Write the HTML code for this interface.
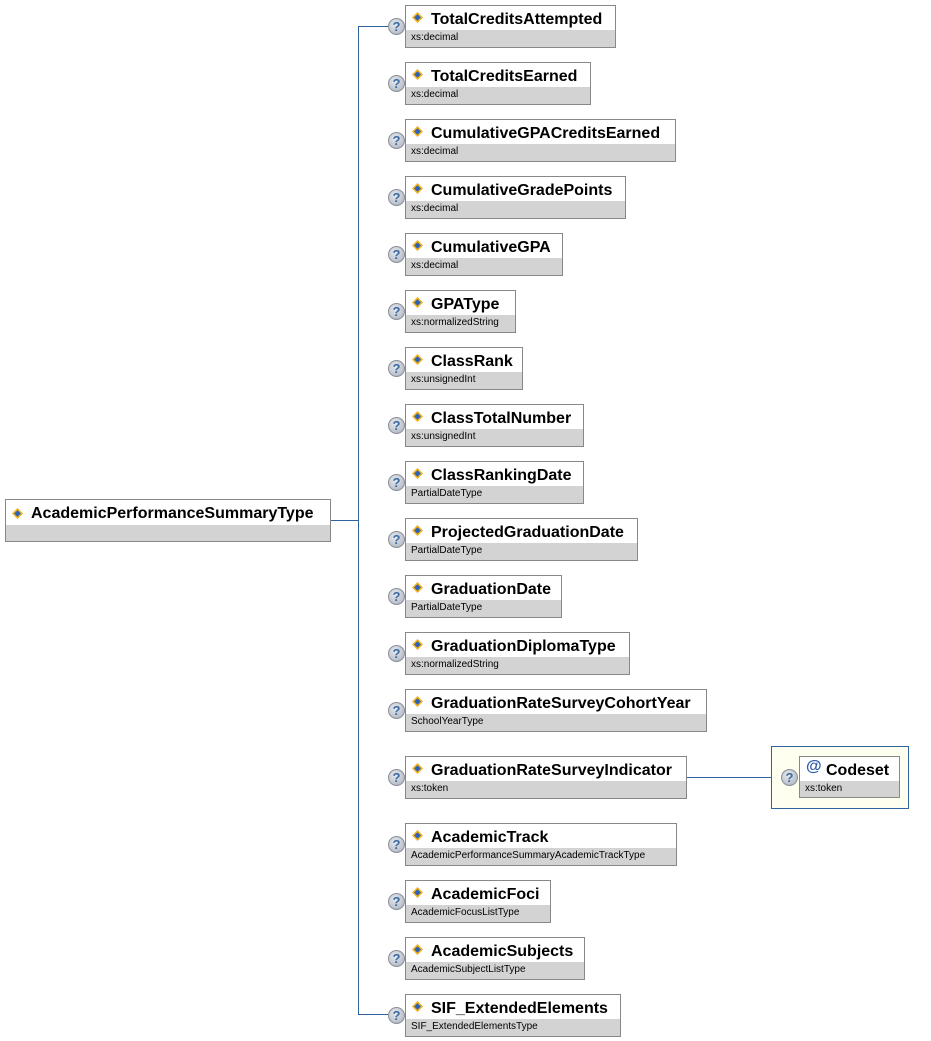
<!DOCTYPE html>
<html><head><meta charset="utf-8"><style>
body{margin:0;width:931px;height:1041px;background:#fff;position:relative;overflow:hidden;font-family:"Liberation Sans",Arial,sans-serif}
.b{position:absolute;height:41px;border:1px solid #888;background:#d3d3d3;box-sizing:border-box}
.b .t{height:24px;background:#fff;font-weight:bold;font-size:16px;line-height:27px;padding-left:25px;white-space:nowrap;color:#000}
.b .s{font-size:10px;line-height:16px;padding-left:5px;white-space:nowrap;color:#000}
.ic{position:absolute;left:6px;top:6px;width:11px;height:11px}
.q{position:absolute;width:17px;height:17px;border-radius:50%;background:radial-gradient(circle at 40% 35%,#e6e9ee,#a8afbb);border:1px solid #8a8f98;box-sizing:border-box;font-size:13px;font-weight:bold;color:#3d6aa0;text-align:center;line-height:16px}
.l{position:absolute;background:#2f64a0}
</style></head><body>
<div class="l" style="left:358px;top:26px;width:1px;height:989px"></div>
<div class="l" style="left:358px;top:26px;width:30px;height:1px"></div>
<div class="l" style="left:358px;top:1014px;width:30px;height:1px"></div>
<div class="l" style="left:330px;top:520px;width:28px;height:1px"></div>
<div class="l" style="left:686px;top:777px;width:85px;height:1px"></div>

<div class="b" style="left:5px;top:499px;width:326px;height:43px"><div class="t" style="height:25px;font-size:16px;line-height:28px;">AcademicPerformanceSummaryType</div><svg class="ic" style="top:8px" viewBox="0 0 10 10"><path d="M5 0L10 5L5 10L0 5Z" fill="#f0b020"/><path d="M5 2L8 5L5 8L2 5Z" fill="#2b62b8"/></svg></div>

<div style="position:absolute;left:771px;top:746px;width:138px;height:63px;border:1px solid #2f64a0;background:#fffff0;box-sizing:border-box"></div>
<div class="q" style="left:781px;top:769px">?</div>
<div class="b" style="left:799px;top:756px;width:101px;height:42px"><div class="t" style="font-size:16px;padding-left:26px">Codeset</div><div style="position:absolute;left:6px;top:1px;font-weight:bold;font-size:16px;color:#2b5aa8">@</div><div class="s">xs:token</div></div>

<div id="rows"></div>
<script>
var d=[["TotalCreditsAttempted","xs:decimal",5,615],["TotalCreditsEarned","xs:decimal",62,590],["CumulativeGPACreditsEarned","xs:decimal",119,675],["CumulativeGradePoints","xs:decimal",176,625],["CumulativeGPA","xs:decimal",233,562],["GPAType","xs:normalizedString",290,515],["ClassRank","xs:unsignedInt",347,522],["ClassTotalNumber","xs:unsignedInt",404,583],["ClassRankingDate","PartialDateType",461,583],["ProjectedGraduationDate","PartialDateType",518,637],["GraduationDate","PartialDateType",575,561],["GraduationDiplomaType","xs:normalizedString",632,629],["GraduationRateSurveyCohortYear","SchoolYearType",689,706],["GraduationRateSurveyIndicator","xs:token",756,686],["AcademicTrack","AcademicPerformanceSummaryAcademicTrackType",823,676],["AcademicFoci","AcademicFocusListType",880,550],["AcademicSubjects","AcademicSubjectListType",937,584],["SIF_ExtendedElements","SIF_ExtendedElementsType",994,620]];
var h="";
d.forEach(function(r){
h+='<div class="q" style="left:388px;top:'+(r[2]+13)+'px">?</div>';
h+='<div class="b" style="left:405px;top:'+r[2]+'px;width:'+(r[3]-404)+'px;height:43px"><div class="t">'+r[0]+'</div><svg class="ic" viewBox="0 0 10 10"><path d="M5 0L10 5L5 10L0 5Z" fill="#f0b020"/><path d="M5 2L8 5L5 8L2 5Z" fill="#2b62b8"/></svg><div class="s">'+r[1]+'</div></div>';
});
document.getElementById("rows").innerHTML=h;
</script>
</body></html>
